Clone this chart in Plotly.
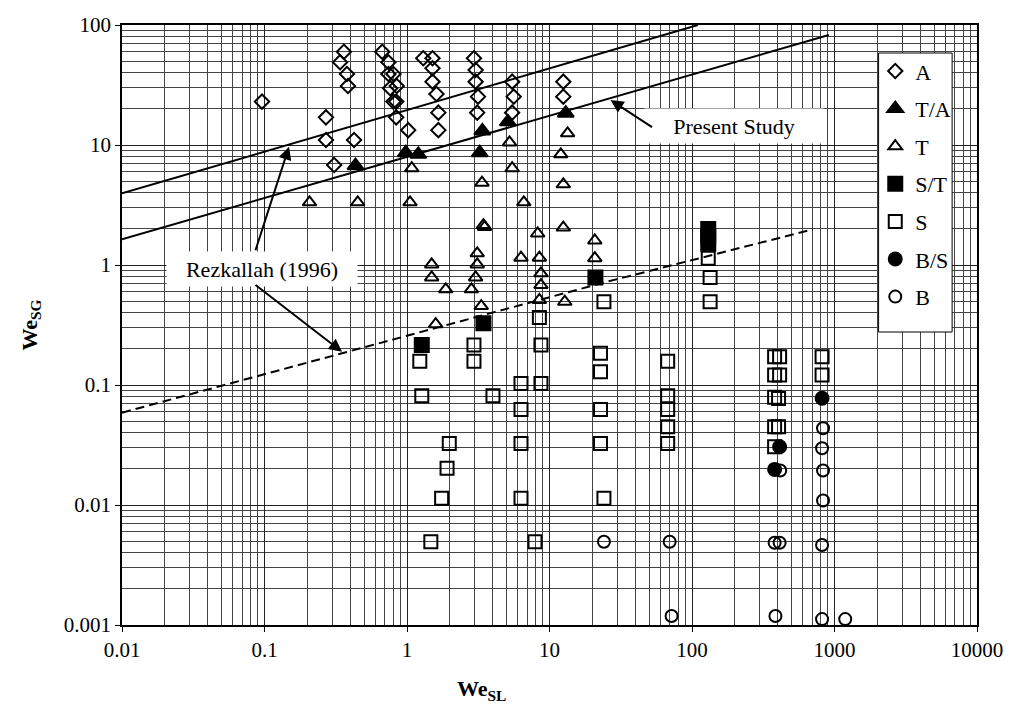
import numpy as np
import plotly.graph_objects as go

# ---------------- data ----------------
A_x = [0.096, 0.27, 0.27, 0.308, 0.425, 0.361, 0.339, 0.379, 0.385, 0.67, 0.741, 0.741,
       0.803, 0.762, 0.847, 0.803, 0.84, 0.84, 1.02, 1.30, 1.51, 1.51, 1.51, 1.61, 1.66,
       1.66, 2.95, 3.03, 3.03, 3.15, 3.11, 5.47, 5.61, 5.47, 12.5, 12.5]
A_y = [23.0, 17.0, 11.0, 6.81, 11.0, 59.9, 48.9, 39.1, 31.0, 59.9, 48.9, 39.1,
       39.1, 29.7, 31.0, 23.0, 23.0, 17.0, 13.3, 52.8, 52.8, 43.6, 33.7, 26.6, 18.6,
       13.3, 52.8, 42.2, 33.7, 25.3, 18.6, 33.7, 25.3, 18.6, 33.7, 25.3]

TA_x = [0.435, 0.98, 1.20, 3.38, 3.24, 5.1, 13.0]
TA_y = [6.72, 8.62, 8.37, 13.1, 8.62, 15.6, 18.4]

T_x = [0.207, 0.451, 1.05, 1.08, 5.24, 5.47, 13.4, 12.0, 12.5, 3.36, 6.6, 3.44, 3.5,
       8.26, 12.5, 20.8, 20.8, 1.49, 1.49, 1.87, 1.59, 3.11, 3.11, 3.03, 2.83, 3.32,
       6.31, 8.49, 8.71, 8.71, 8.49, 12.8]
T_y = [3.33, 3.33, 3.33, 6.40, 10.5, 6.40, 12.5, 8.37, 4.70, 4.85, 3.33, 2.15, 2.07,
       1.83, 2.05, 1.60, 1.14, 1.01, 0.787, 0.627, 0.321, 1.25, 1.01, 0.787, 0.627, 0.455,
       1.15, 1.15, 0.853, 0.681, 0.511, 0.494]

ST_x = [1.27, 3.44, 21.0, 130, 130, 130]
ST_y = [0.215, 0.327, 0.787, 1.50, 1.73, 2.0]

S_x = [2.95, 1.23, 2.95, 1.27, 4.01, 1.98, 6.31, 8.71, 6.31, 8.49, 8.71, 22.8, 22.8, 22.8,
       24.1, 67.5, 67.5, 67.5, 67.5, 67.5, 130, 134, 134,
       380, 412, 380, 412, 380, 405, 380, 405, 380, 818, 818,
       6.31, 22.8, 1.91, 1.75, 6.31, 24.1, 1.47, 7.91]
S_y = [0.215, 0.158, 0.158, 0.0814, 0.0814, 0.0326, 0.103, 0.103, 0.0625, 0.366, 0.215, 0.184, 0.129, 0.0625,
       0.494, 0.158, 0.0814, 0.0625, 0.0449, 0.0326, 1.14, 0.787, 0.494,
       0.172, 0.172, 0.121, 0.121, 0.079, 0.077, 0.0449, 0.0449, 0.0306, 0.172, 0.121,
       0.0326, 0.0326, 0.0202, 0.0114, 0.0114, 0.0114, 0.00494, 0.00494]

BS_x = [412, 380, 818]
BS_y = [0.0306, 0.0198, 0.0775]

B_x = [831, 818, 831, 831, 24.1, 69.7, 380, 412, 818, 71.9, 385, 818, 1189, 416]
B_y = [0.0436, 0.0297, 0.0194, 0.0109, 0.00494, 0.00494, 0.00485, 0.00485, 0.00464,
       0.00119, 0.00119, 0.00112, 0.00112, 0.0194]

# transition lines
rez_upper_x = [0.01, 110]
rez_upper_y = [3.95, 100]
present_x = [0.01, 912]
present_y = [1.64, 82.6]
rez_lower_x = [0.01, 25.4, 705]
rez_lower_y = [0.0588, 0.726, 1.98]

x_ticks = [0.01, 0.1, 1, 10, 100, 1000, 10000]
x_ticktext = ["0.01", "0.1", "1", "10", "100", "1000", "10000"]
y_ticks = [0.001, 0.01, 0.1, 1, 10, 100]
y_ticktext = ["0.001", "0.01", "0.1", "1", "10", "100"]

FONT = "Liberation Serif, Times New Roman, serif"

fig = go.Figure()

fig.add_trace(go.Scatter(x=rez_upper_x, y=rez_upper_y, mode="lines",
                         line=dict(color="black", width=2), showlegend=False, hoverinfo="skip"))
fig.add_trace(go.Scatter(x=present_x, y=present_y, mode="lines",
                         line=dict(color="black", width=2), showlegend=False, hoverinfo="skip"))
fig.add_trace(go.Scatter(x=rez_lower_x, y=rez_lower_y, mode="lines",
                         line=dict(color="black", width=2, dash="9px,5px"), showlegend=False,
                         hoverinfo="skip"))

series = [
    ("A", A_x, A_y, "diamond-open", 11),
    ("T/A", TA_x, TA_y, "triangle-up", 14),
    ("T", T_x, T_y, "triangle-up-open", 12),
    ("S/T", ST_x, ST_y, "square", 14),
    ("S", S_x, S_y, "square-open", 13),
    ("B/S", BS_x, BS_y, "circle", 13),
    ("B", B_x, B_y, "circle-open", 12),
]
for name, xs, ys, sym, size in series:
    fig.add_trace(go.Scatter(
        x=xs, y=ys, mode="markers", name=name, legendgroup=name,
        marker=dict(symbol=sym, size=size, color="black",
                    line=dict(color="black", width=2)),
    ))

axis_common = dict(
    type="log", showline=True, linecolor="black", linewidth=1.5, mirror=True,
    ticks="outside", ticklen=5, tickcolor="black",
    showgrid=True, gridcolor="#222222", gridwidth=1,
    minor=dict(dtick="D1", showgrid=True, gridcolor="#444444", gridwidth=1, ticks=""),
    tickfont=dict(family=FONT, size=21, color="black"),
)

fig.update_xaxes(range=[-2, 4], tickvals=x_ticks, ticktext=x_ticktext, **axis_common)
fig.update_yaxes(range=[-3, 2], tickvals=y_ticks, ticktext=y_ticktext, **axis_common)

ann = []
# Present Study label and arrow
ann.append(dict(x=np.log10(195.7), y=np.log10(14.5), xref="x", yref="y", text="Present Study",
                showarrow=False, font=dict(family=FONT, size=22, color="black"),
                bgcolor="white", borderpad=3, width=172, height=28, align="center",
                xanchor="center", yanchor="middle"))
ann.append(dict(x=np.log10(26.8), y=np.log10(23.7), xref="x", yref="y", text="",
                showarrow=True, ax=43, ay=28, arrowhead=2, arrowsize=1.3, arrowwidth=2,
                arrowcolor="black"))
# Rezkallah label and arrows
ann.append(dict(x=np.log10(0.0956), y=np.log10(0.935), xref="x", yref="y", text="Rezkallah (1996)",
                showarrow=False, font=dict(family=FONT, size=22, color="black"),
                bgcolor="white", borderpad=3, width=184, height=28, align="center",
                xanchor="center", yanchor="middle"))
ann.append(dict(x=np.log10(0.1486), y=np.log10(9.68), xref="x", yref="y", text="",
                showarrow=True, ax=-34, ay=105, arrowhead=2, arrowsize=1.3, arrowwidth=2,
                arrowcolor="black"))
ann.append(dict(x=np.log10(0.35), y=np.log10(0.189), xref="x", yref="y", text="",
                showarrow=True, ax=-88, ay=-68, arrowhead=2, arrowsize=1.3, arrowwidth=2,
                arrowcolor="black"))
# axis titles
ann.append(dict(x=0.42, y=-0.108, xref="paper", yref="paper", text="<b>We<sub>SL</sub></b>",
                showarrow=False, xanchor="center", yanchor="middle",
                font=dict(family=FONT, size=22, color="black")))
ann.append(dict(x=-0.107, y=0.5, xref="paper", yref="paper", text="<b>We<sub>SG</sub></b>",
                showarrow=False, textangle=-90, xanchor="center", yanchor="middle",
                font=dict(family=FONT, size=22, color="black")))

# legend frame (white box with black border, drawn over the grid)
shapes = [dict(type="rect", xref="paper", yref="paper", x0=0.8849, x1=0.9709,
               y0=0.4883, y1=0.9533, fillcolor="white", line=dict(color="black", width=1),
               layer="above")]

fig.update_layout(
    width=1015, height=713,
    margin=dict(l=122, r=33, t=25, b=88),
    paper_bgcolor="white", plot_bgcolor="white",
    annotations=ann,
    shapes=shapes,
    legend=dict(x=0.881, y=0.958, xanchor="left", yanchor="top",
                bgcolor="rgba(0,0,0,0)", borderwidth=0,
                font=dict(family=FONT, size=22, color="black"),
                tracegroupgap=6),
    showlegend=True,
)

fig.write_html("out.html")
